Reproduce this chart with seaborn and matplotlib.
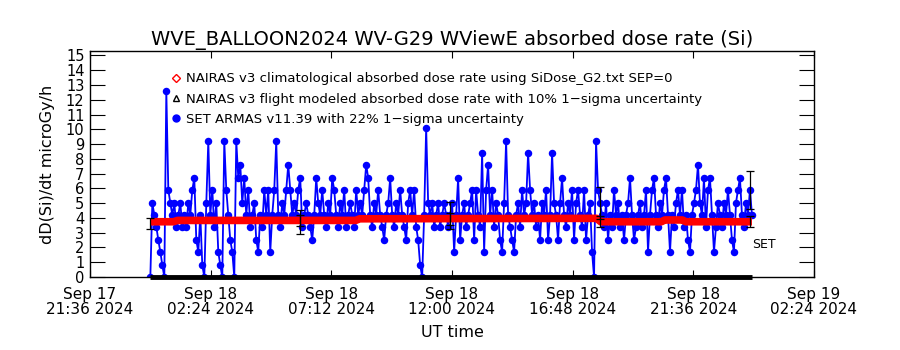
import pandas as pd
import matplotlib
matplotlib.use('Agg')
import matplotlib.pyplot as plt
import matplotlib.dates as mdates
from matplotlib.lines import Line2D
from matplotlib.ticker import FuncFormatter
import seaborn as sns

# SET ARMAS absorbed dose rate, one reading every ~4.8 min over Sep 18
SET_START = '2024-09-18 00:00'
SET_END = '2024-09-18 23:56'
SET_DOSE = [
    0.0, 5.0, 4.2, 3.4, 2.5, 1.7, 0.8, 0.0, 12.6, 5.9,
    5.0, 4.2, 5.0, 3.4, 4.2, 5.0, 3.4, 4.2, 3.4, 5.0,
    4.2, 5.9, 6.7, 2.5, 1.7, 4.2, 0.8, 0.0, 5.0, 9.2,
    4.2, 5.9, 3.4, 5.0, 1.7, 0.8, 0.0, 9.2, 5.9, 4.2,
    2.5, 1.7, 0.0, 9.2, 6.7, 7.6, 5.0, 6.7, 4.2, 5.9,
    3.4, 4.2, 5.0, 2.5, 1.7, 4.2, 3.4, 5.9, 4.2, 5.9,
    1.7, 4.2, 5.9, 9.2, 4.2, 3.4, 5.0, 4.2, 5.9, 7.6,
    5.9, 4.2, 5.0, 4.2, 5.9, 6.7, 3.4, 4.2, 5.0, 4.2,
    3.4, 2.5, 4.2, 6.7, 5.0, 4.2, 5.9, 4.2, 3.4, 5.0,
    4.2, 6.7, 5.9, 4.2, 3.4, 5.0, 4.2, 5.9, 3.4, 4.2,
    5.0, 4.2, 3.4, 5.9, 4.2, 5.0, 4.2, 5.9, 7.6, 6.7,
    4.2, 3.4, 5.0, 4.2, 5.9, 4.2, 3.4, 2.5, 4.2, 5.0,
    6.7, 4.2, 3.4, 5.0, 4.2, 5.9, 4.2, 3.4, 2.5, 5.0,
    5.9, 4.2, 5.9, 3.4, 2.5, 0.8, 0.0, 4.2, 10.1, 5.0,
    4.2, 5.0, 3.4, 4.2, 5.0, 3.4, 4.2, 5.0, 4.2, 3.4,
    4.2, 5.0, 1.7, 4.2, 6.7, 2.5, 4.2, 5.0, 3.4, 4.2,
    5.0, 5.9, 2.5, 5.9, 4.2, 3.4, 8.4, 1.7, 5.9, 7.6,
    4.2, 5.9, 3.4, 5.0, 4.2, 2.5, 1.7, 5.0, 9.2, 4.2,
    3.4, 2.5, 1.7, 4.2, 5.0, 3.4, 5.9, 4.2, 5.0, 8.4,
    5.9, 4.2, 5.0, 3.4, 4.2, 2.5, 5.0, 4.2, 5.9, 2.5,
    4.2, 8.4, 5.0, 4.2, 2.5, 5.0, 6.7, 4.2, 3.4, 5.0,
    4.2, 5.9, 2.5, 5.0, 5.9, 4.2, 3.4, 5.9, 2.5, 4.2,
    5.0, 1.7, 0.0, 9.2, 5.9, 5.0, 4.2, 3.4, 5.0, 2.5,
    4.2, 3.4, 5.9, 4.2, 5.0, 3.4, 4.2, 2.5, 4.2, 5.0,
    6.7, 4.2, 2.5, 3.4, 4.2, 5.0, 3.4, 4.2, 5.9, 1.7,
    4.2, 5.9, 6.7, 4.2, 3.4, 5.0, 4.2, 5.9, 6.7, 4.2,
    1.7, 4.2, 3.4, 5.0, 5.9, 4.2, 5.9, 3.4, 4.2, 2.5,
    1.7, 4.2, 5.0, 5.9, 7.6, 5.0, 4.2, 6.7, 3.4, 5.9,
    6.7, 4.2, 1.7, 3.4, 5.0, 4.2, 3.4, 5.0, 4.2, 5.9,
    4.2, 2.5, 1.7, 5.0, 5.9, 6.7, 4.2, 3.4, 5.0, 4.2,
    5.9, 4.2,
]

# NAIRAS v3 climatological dose rate
CLIM_TIMES = ['2024-09-18 00:00', '2024-09-18 00:55', '2024-09-18 01:05',
              '2024-09-18 08:10', '2024-09-18 08:20', '2024-09-18 17:45',
              '2024-09-18 17:55', '2024-09-18 20:20', '2024-09-18 20:28',
              '2024-09-18 21:10', '2024-09-18 21:18', '2024-09-18 23:56']
CLIM_DOSE = [3.74, 3.74, 3.83, 3.83, 3.94, 3.97, 3.74, 3.74, 3.86, 3.86, 3.74, 3.74]

# NAIRAS v3 flight modeled dose rate
FLIGHT_DOSE = [0.0] * len(CLIM_TIMES)

# error bars (10% NAIRAS, 22% SET)
NAIRAS_ERR_TIMES = ['2024-09-18 00:00', '2024-09-18 05:58', '2024-09-18 11:56',
                    '2024-09-18 17:53', '2024-09-18 23:52']
NAIRAS_ERR_MEAN = [3.6, 3.83, 3.94, 3.75, 3.75]
SET_ERR_TIMES = ['2024-09-18 05:58', '2024-09-18 11:56', '2024-09-18 17:53', '2024-09-18 23:52']
SET_ERR_MEAN = [3.71, 4.17, 5.0, 5.88]

XTICKS = pd.date_range('2024-09-17 21:36', '2024-09-19 02:24', freq='288min')

sns.set_style('ticks')
plt.rcParams['font.family'] = ['DejaVu Sans']
plt.rcParams['text.color'] = 'black'
plt.rcParams['axes.labelcolor'] = 'black'
plt.rcParams['xtick.color'] = 'black'
plt.rcParams['ytick.color'] = 'black'

set_times = pd.date_range(SET_START, SET_END, periods=len(SET_DOSE))
clim_times = pd.to_datetime(CLIM_TIMES)

fig = plt.figure(figsize=(9, 3.5), dpi=100)
ax = fig.add_axes([0.1, 0.2086, 0.8044, 0.6457])

sns.lineplot(x=set_times, y=SET_DOSE, ax=ax, color='blue', marker='o', markersize=5.4,
             markeredgewidth=0, linewidth=1.3, estimator=None, sort=False, zorder=2)
ax.plot(clim_times, CLIM_DOSE, color='red', linewidth=5.5, solid_capstyle='butt', zorder=10)
ax.plot(clim_times, FLIGHT_DOSE, color='black', linewidth=3.5, solid_capstyle='butt',
        zorder=11, clip_on=False)

nt = pd.to_datetime(NAIRAS_ERR_TIMES)
ax.errorbar(nt, NAIRAS_ERR_MEAN, yerr=[0.1 * v for v in NAIRAS_ERR_MEAN], fmt='none',
            ecolor='black', elinewidth=0.9, capsize=3, capthick=0.9, zorder=12)
st = pd.to_datetime(SET_ERR_TIMES)
ax.errorbar(st, SET_ERR_MEAN, yerr=[0.22 * v for v in SET_ERR_MEAN], fmt='none',
            ecolor='black', elinewidth=0.9, capsize=3, capthick=0.9, zorder=12)

ax.text(pd.Timestamp('2024-09-18 23:56'), 2.2, 'SET', fontsize=9, va='center', ha='left')

ax.set_xlim(XTICKS[0], XTICKS[-1])
ax.set_ylim(0, 15.3)
ax.set_xticks(XTICKS)
ax.xaxis.set_major_formatter(FuncFormatter(
    lambda v, p: mdates.num2date(v).strftime('%b %d\n%H:%M %Y')))
ax.set_yticks(range(0, 16))
ax.tick_params(axis='x', direction='in', length=5, top=True, labelsize=11, pad=7)
ax.tick_params(axis='y', direction='in', length=11, right=True, labelsize=10.5, pad=4)
for lbl in ax.get_xticklabels():
    lbl.set_linespacing(1.0)
for s in ax.spines.values():
    s.set_linewidth(1)
    s.set_color('black')

ax.set_title('WVE_BALLOON2024 WV-G29 WViewE absorbed dose rate (Si)', fontsize=14, pad=4)
ax.set_xlabel('UT time', fontsize=11.5, labelpad=6)
ax.set_ylabel('dD(Si)/dt microGy/h', fontsize=11.5, labelpad=8)

handles = [
    Line2D([], [], linestyle='none', marker='D', markersize=4, markerfacecolor='none',
           markeredgecolor='red', markeredgewidth=1),
    Line2D([], [], linestyle='none', marker='^', markersize=5, markerfacecolor='none',
           markeredgecolor='black', markeredgewidth=1),
    Line2D([], [], linestyle='none', marker='o', markersize=5, color='blue'),
]
labels = [
    'NAIRAS v3 climatological absorbed dose rate using SiDose_G2.txt SEP=0',
    'NAIRAS v3 flight modeled absorbed dose rate with 10% 1\u2212sigma uncertainty',
    'SET ARMAS v11.39 with 22% 1\u2212sigma uncertainty',
]
ax.legend(handles, labels, loc='upper left', bbox_to_anchor=(0.112, 0.905), frameon=False,
          fontsize=9.5, handlelength=0.8, handletextpad=0.3, labelspacing=0.55,
          borderpad=0, borderaxespad=0)

fig.savefig('out.png', dpi=100)
